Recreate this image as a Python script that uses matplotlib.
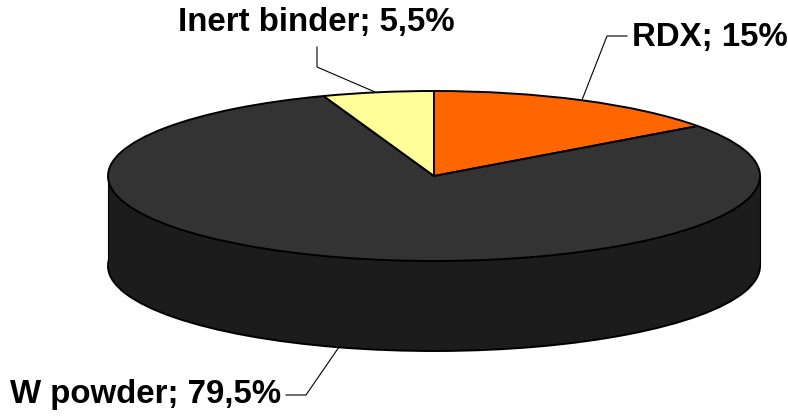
import matplotlib
matplotlib.use('Agg')
import matplotlib.pyplot as plt

labels = ['RDX; 15%', 'W powder; 79,5%', 'Inert binder; 5,5%']
values = [15, 79.5, 5.5]
colors = ['#FF6600', '#333333', '#FFFF99']
side_color = '#1C1C1C'

W, H = 788, 419
cx, cy = 434, 176     # centre of the top ellipse, pixels
rx, ry = 326, 85
depth = 90 / ry

plt.rcParams['font.family'] = ['Liberation Sans', 'DejaVu Sans']

fig = plt.figure(figsize=(W / 100, H / 100), dpi=100)
ax = fig.add_axes([0, 0, 1, 1])

edge = dict(edgecolor='black', linewidth=1.4)

# side of the disc: lower copy of the pie plus a band
ax.pie(values, startangle=90, counterclock=False, center=(0, -depth),
       colors=[side_color] * len(values), wedgeprops=edge)
ax.add_patch(plt.Rectangle((-1, -depth), 2, depth, facecolor=side_color,
                           edgecolor='none', zorder=2))
# small patch over the wedge tips of the lower copy
ax.add_patch(plt.Rectangle((-0.1, -depth - 0.2), 0.2, 0.3, facecolor=side_color,
                           edgecolor='none', zorder=2))
ax.plot([-1, -1], [-depth, 0], color='black', lw=0.8, zorder=3)
ax.plot([1, 1], [-depth, 0], color='black', lw=0.8, zorder=3)

# top of the disc
wedges, _ = ax.pie(values, startangle=90, counterclock=False, colors=colors,
                   wedgeprops=edge)
for w in wedges:
    w.set_zorder(4)

ax.set_aspect('auto')
ax.set_xlim(-cx / rx, (W - cx) / rx)
ax.set_ylim(-(H - cy) / ry, cy / ry)
ax.axis('off')


def px(x, y):
    return (x - cx) / rx, (cy - y) / ry


# leader lines
leaders = [
    [(582, 100), (607, 36), (627, 36)],
    [(375, 92), (317, 67), (317, 47)],
    [(339, 347), (306, 395), (286, 395)],
]
for pts in leaders:
    p = [px(*q) for q in pts]
    ax.plot([a[0] for a in p], [a[1] for a in p], color='black', lw=0.8, zorder=5)

text_pos = [(632, 37), (178, 22), (10, 394)]
order = [0, 2, 1]
for i, (x, y) in zip(order, text_pos):
    tx, ty = px(x, y)
    ax.text(tx, ty, labels[i], fontsize=23.8, fontweight='bold', ha='left', va='center',
            zorder=6)

fig.savefig('out.png', dpi=100, facecolor='white')
